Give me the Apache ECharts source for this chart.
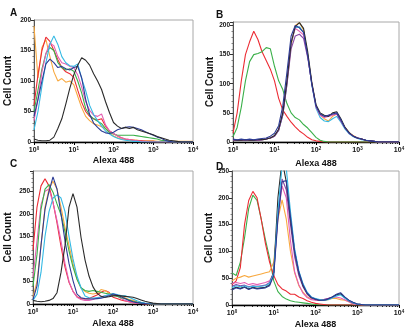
<!DOCTYPE html>
<html><head><meta charset="utf-8">
<script src="https://cdn.jsdelivr.net/npm/echarts@6/dist/echarts.min.js"></script>
<style>html,body{margin:0;padding:0;background:#fff}#c{width:412px;height:334px}</style>
</head><body><div id="c"></div>
<script>
// log10 bin positions (Alexa 488 intensity, decades)
const bins = [0.0,0.1,0.2,0.3,0.4,0.5,0.6,0.7,0.8,0.9,1.0,1.1,1.2,1.3,1.4,1.5,1.6,1.7,1.8,1.9,2.0,2.1,2.2,2.3,2.4,2.5,2.6,2.7,2.8,2.9,3.0,3.1,3.2,3.3,3.4,3.5,3.6,3.7,3.8,3.9,4.0];
const xTickExponents = ['0','1','2','3','4'];
const panelLetters = ['A','B','C','D'];
const yMax = [200, 206, 295, 250];

// Panel A
const A_orange = [190,105,155,168,140,115,100,104,98,100,94,75,56,42,35,30,28,25,22,15,10,7,5,4,3,3,3,2,2,2,2,1,1,1,1,1,1,1,1,1,1];
const A_red    = [60,110,150,172,165,150,135,122,115,112,106,85,65,50,42,38,36,38,26,18,14,10,7,5,4,3,2,2,1,1,1,0,0,0,0,0,0,0,0,0,0];
const A_green  = [50,85,120,145,155,150,130,122,118,120,116,100,80,55,44,38,34,30,22,16,13,11,11,11,11,11,10,9,8,7,6,5,3,2,1,0,0,0,0,0,0];
const A_pink   = [35,70,115,145,162,158,140,130,128,124,122,110,90,66,52,44,42,46,28,18,14,10,7,5,4,3,2,1,1,0,0,0,0,0,0,0,0,0,0,0,0];
const A_cyan   = [20,50,92,130,160,174,160,140,130,125,124,128,104,84,60,45,35,26,18,13,9,6,4,3,2,1,1,0,0,0,0,0,0,0,0,0,0,0,0,0,0];
const A_blue   = [42,70,100,128,136,130,122,124,120,118,122,124,105,70,45,31,24,18,15,14,16,20,22,24,25,24,22,20,17,14,11,8,6,3,1,0,0,0,0,0,0];
const A_black  = [5,3,2,2,3,8,22,38,62,88,110,126,138,134,126,112,100,86,66,48,32,26,22,24,22,24,20,18,16,14,12,9,7,5,3,2,1,0,0,0,0];

// Panel B
const B_red    = [15,50,105,150,172,190,176,155,140,125,105,75,55,44,34,26,19,14,8,4,2,1,0,0,0,0,0,0,0,0,0,0,0,0,0,0,0,0,0,0,0];
const B_green  = [9,25,60,105,138,150,152,155,162,160,130,105,90,66,50,42,38,30,24,16,8,3,1,0,0,0,0,0,0,0,0,0,0,0,0,0,0,0,0,0,0];
const B_orange = [3,3,3,3,3,3,3,4,5,7,10,20,48,100,165,200,205,192,150,100,62,46,40,36,44,48,38,25,16,11,7,5,3,2,1,0,0,0,0,0,0];
const B_cyan   = [3,3,3,3,3,3,3,4,5,7,10,20,46,100,170,196,198,188,150,98,58,42,36,35,40,44,34,22,14,9,6,4,3,2,1,0,0,0,0,0,0];
const B_pink   = [3,3,3,3,3,3,3,4,5,7,10,21,50,105,172,195,190,184,148,100,60,46,42,44,46,48,36,24,15,10,7,5,3,2,1,0,0,0,0,0,0];
const B_purple = [3,3,3,3,3,3,3,4,5,7,10,20,46,98,160,182,185,178,145,100,62,48,44,46,48,48,36,24,15,10,7,5,3,2,1,0,0,0,0,0,0];
const B_black  = [4,3,3,4,3,3,4,4,5,7,11,22,50,105,170,198,205,195,155,102,64,50,46,44,50,52,40,25,16,10,7,5,3,2,1,0,0,0,0,0,0];
const B_blue   = [5,4,5,4,5,4,5,6,7,10,15,28,62,120,182,200,196,188,148,98,62,48,44,46,48,50,38,24,15,10,7,5,3,2,1,0,0,0,0,0,0];

// Panel C
const C_red    = [120,215,262,278,262,226,180,128,82,48,28,16,12,11,12,16,20,26,30,26,15,12,9,7,5,3,2,1,0,0,0,0,0,0,0,0,0,0,0,0,0];
const C_pink   = [60,140,220,250,255,225,185,140,90,50,28,15,10,8,8,10,14,16,18,20,22,18,12,8,5,3,2,1,0,0,0,0,0,0,0,0,0,0,0,0,0];
const C_orange = [15,50,130,215,255,272,255,215,170,130,90,55,36,28,24,22,24,32,30,24,22,20,18,14,10,8,5,3,1,0,0,0,0,0,0,0,0,0,0,0,0];
const C_green  = [40,110,210,255,265,248,222,198,160,118,82,55,36,30,28,30,28,26,24,22,19,17,14,12,9,6,4,2,1,0,0,0,0,0,0,0,0,0,0,0,0];
const C_cyan   = [8,22,70,150,205,235,242,235,205,150,100,62,36,18,14,13,14,15,18,21,23,21,19,18,15,11,7,4,2,1,0,0,0,0,0,0,0,0,0,0,0];
const C_blue   = [10,40,130,210,250,282,255,200,140,90,52,22,14,12,11,11,12,13,15,18,22,20,16,12,8,5,3,2,1,0,0,0,0,0,0,0,0,0,0,0,0];
const C_black  = [8,6,5,6,8,12,25,70,130,215,245,215,148,98,62,38,24,17,15,16,18,19,18,17,16,15,12,9,6,4,2,1,0,0,0,0,0,0,0,0,0];

// Panel D
const D_green  = [60,55,80,125,180,205,195,160,122,88,45,25,16,11,8,6,5,4,3,2,1,0,0,0,0,0,0,0,0,0,0,0,0,0,0,0,0,0,0,0,0];
const D_red    = [38,45,70,150,195,212,200,160,115,80,55,38,30,26,20,20,15,12,8,5,3,2,1,0,0,0,0,0,0,0,0,0,0,0,0,0,0,0,0,0,0];
const D_orange = [45,50,52,55,52,54,56,58,60,62,80,160,196,160,100,60,36,24,15,12,10,9,9,10,12,12,10,9,6,2,1,0,0,0,0,0,0,0,0,0,0];
const D_pink   = [40,42,40,42,38,40,38,40,42,45,60,165,222,200,120,62,38,22,14,10,9,9,10,12,14,15,13,10,6,2,1,0,0,0,0,0,0,0,0,0,0];
const D_purple = [35,38,36,37,34,36,35,36,37,42,60,170,235,215,150,90,55,34,20,13,10,9,10,12,15,18,20,14,8,4,2,1,0,0,0,0,0,0,0,0,0];
const D_black  = [30,33,31,34,30,33,31,32,33,38,62,200,270,230,160,100,60,36,22,14,11,9,9,11,14,19,21,14,8,4,2,1,0,0,0,0,0,0,0,0,0];
const D_cyan   = [32,36,34,36,33,35,34,35,36,40,60,175,260,255,175,105,64,40,24,15,12,10,9,10,13,17,19,13,8,4,2,1,0,0,0,0,0,0,0,0,0];
const D_blue   = [28,32,30,33,29,32,30,31,32,36,55,160,230,232,165,100,62,38,22,14,11,9,9,11,15,20,23,15,9,5,2,1,0,0,0,0,0,0,0,0,0];

const COL = {black:'#2a2a2a', red:'#ec2c34', orange:'#f8a940', green:'#3bb04a', cyan:'#34b9e4', blue:'#2c3b94', pink:'#e45fb4', purple:'#8a4aa8'};

const panels = [
  [['orange',A_orange],['red',A_red],['green',A_green],['pink',A_pink],['cyan',A_cyan],['blue',A_blue],['black',A_black]],
  [['red',B_red],['green',B_green],['orange',B_orange],['cyan',B_cyan],['pink',B_pink],['purple',B_purple],['black',B_black],['blue',B_blue]],
  [['red',C_red],['pink',C_pink],['orange',C_orange],['green',C_green],['cyan',C_cyan],['blue',C_blue],['black',C_black]],
  [['green',D_green],['red',D_red],['orange',D_orange],['pink',D_pink],['purple',D_purple],['black',D_black],['cyan',D_cyan],['blue',D_blue]]
];

const grids = [
  {left:34, top:20, width:159, height:122},
  {left:233, top:22, width:166, height:120},
  {left:33, top:171, width:160, height:133},
  {left:232, top:171, width:167, height:134}
];
const xNameGap = [14, 17, 15, 15];
const yNameGap = [21, 16, 20, 16];
const letterPos = [[5,3],[211,5],[5,154],[211,157]];

const minorFrac = [0.301,0.477,0.602,0.699,0.778,0.845,0.903,0.954];
const minorTicks = [];
for (let d = 0; d < 4; d++) minorFrac.forEach(f => minorTicks.push(d + f));

const FONT = 'Liberation Sans, Arial, sans-serif';
const xAxes = [], yAxes = [], series = [], titles = [];
grids.forEach((g, i) => {
  g.show = true; g.borderColor = '#a8a8a8'; g.borderWidth = 1; g.backgroundColor = 'transparent';
  xAxes.push({
    type:'value', gridIndex:i, min:0, max:4, interval:1, position:'bottom',
    name:'Alexa 488', nameLocation:'middle', nameGap:xNameGap[i],
    nameTextStyle:{fontFamily:FONT, fontWeight:'bold', fontSize:9, color:'#111'},
    axisLine:{show:true, onZero:false, lineStyle:{color:'#000', width:1.3}},
    axisTick:{show:true, length:3, lineStyle:{color:'#000', width:1}},
    splitLine:{show:false},
    axisLabel:{margin:4, fontFamily:FONT, fontWeight:'bold', fontSize:7, color:'#111',
      formatter: v => '10{s|' + xTickExponents[Math.round(v)] + '}',
      rich:{s:{fontSize:4.5, fontWeight:'bold', fontFamily:FONT, verticalAlign:'top', padding:[0,0,4,0]}}}
  });
  yAxes.push({
    type:'value', gridIndex:i, min:0, max:yMax[i], interval:50,
    name:'Cell Count', nameLocation:'middle', nameGap:yNameGap[i],
    nameTextStyle:{fontFamily:FONT, fontWeight:'bold', fontSize:10, color:'#111'},
    axisLine:{show:true, lineStyle:{color:'#555', width:1}},
    axisTick:{show:true, length:3, lineStyle:{color:'#333', width:1}},
    minorTick:{show:true, splitNumber:5, length:1.5, lineStyle:{color:'#666', width:0.8}},
    splitLine:{show:false},
    axisLabel:{margin:3, fontFamily:FONT, fontWeight:'bold', fontSize:6.5, color:'#111',
      showMaxLabel: (yMax[i] % 50 === 0)}
  });
  titles.push({text:panelLetters[i], left:letterPos[i][0], top:letterPos[i][1],
    textStyle:{fontFamily:FONT, fontWeight:'bold', fontSize:10, color:'#111'}});
});
// minor log ticks on secondary x axes
grids.forEach((g, i) => {
  xAxes.push({
    type:'value', gridIndex:i, min:0, max:4, position:'bottom',
    axisLine:{show:false}, axisLabel:{show:false}, splitLine:{show:false},
    axisTick:{show:true, customValues:minorTicks, length:2, lineStyle:{color:'#000', width:0.8}}
  });
});
panels.forEach((list, i) => {
  list.forEach(([c, vals]) => {
    series.push({
      type:'line', xAxisIndex:i, yAxisIndex:i, showSymbol:false, symbol:'none',
      clip:true, animation:false,
      lineStyle:{color:COL[c], width:1.1},
      itemStyle:{color:COL[c]},
      data: bins.map((b, k) => [b, vals[k]])
    });
  });
});

const chart = echarts.init(document.getElementById('c'), null, {renderer:'canvas'});
chart.setOption({
  animation:false, backgroundColor:'#fff',
  title:titles, grid:grids, xAxis:xAxes, yAxis:yAxes, series:series
});
</script></body></html>
